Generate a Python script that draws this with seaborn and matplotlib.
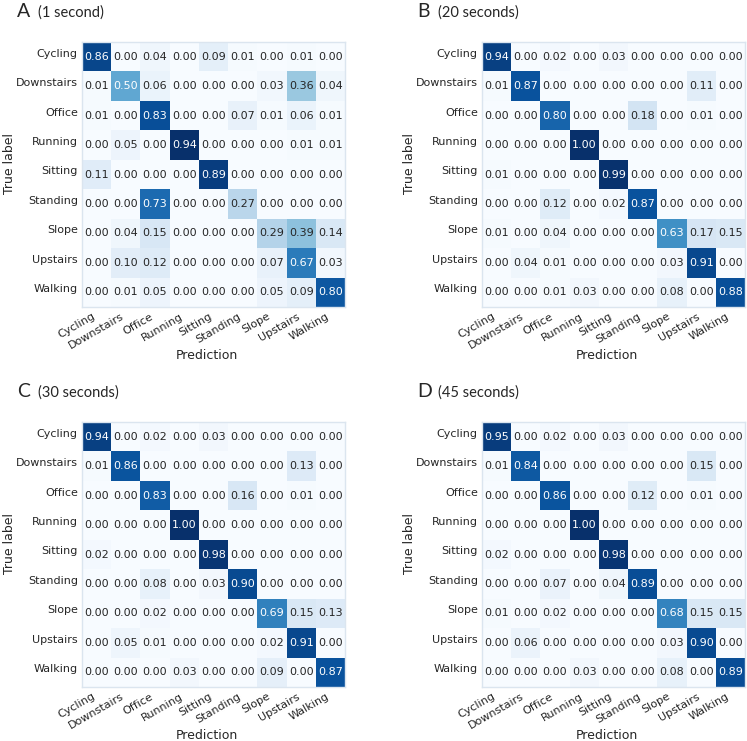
import matplotlib
matplotlib.use("Agg")
import matplotlib.pyplot as plt
import seaborn as sns
import numpy as np
import pandas as pd

classes = ["Cycling", "Downstairs", "Office", "Running", "Sitting",
           "Standing", "Slope", "Upstairs", "Walking"]

# rows = true label, columns = prediction
cm_1s = [
    [0.86, 0.00, 0.04, 0.00, 0.09, 0.01, 0.00, 0.01, 0.00],
    [0.01, 0.50, 0.06, 0.00, 0.00, 0.00, 0.03, 0.36, 0.04],
    [0.01, 0.00, 0.83, 0.00, 0.00, 0.07, 0.01, 0.06, 0.01],
    [0.00, 0.05, 0.00, 0.94, 0.00, 0.00, 0.00, 0.01, 0.01],
    [0.11, 0.00, 0.00, 0.00, 0.89, 0.00, 0.00, 0.00, 0.00],
    [0.00, 0.00, 0.73, 0.00, 0.00, 0.27, 0.00, 0.00, 0.00],
    [0.00, 0.04, 0.15, 0.00, 0.00, 0.00, 0.29, 0.39, 0.14],
    [0.00, 0.10, 0.12, 0.00, 0.00, 0.00, 0.07, 0.67, 0.03],
    [0.00, 0.01, 0.05, 0.00, 0.00, 0.00, 0.05, 0.09, 0.80],
]
cm_20s = [
    [0.94, 0.00, 0.02, 0.00, 0.03, 0.00, 0.00, 0.00, 0.00],
    [0.01, 0.87, 0.00, 0.00, 0.00, 0.00, 0.00, 0.11, 0.00],
    [0.00, 0.00, 0.80, 0.00, 0.00, 0.18, 0.00, 0.01, 0.00],
    [0.00, 0.00, 0.00, 1.00, 0.00, 0.00, 0.00, 0.00, 0.00],
    [0.01, 0.00, 0.00, 0.00, 0.99, 0.00, 0.00, 0.00, 0.00],
    [0.00, 0.00, 0.12, 0.00, 0.02, 0.87, 0.00, 0.00, 0.00],
    [0.01, 0.00, 0.04, 0.00, 0.00, 0.00, 0.63, 0.17, 0.15],
    [0.00, 0.04, 0.01, 0.00, 0.00, 0.00, 0.03, 0.91, 0.00],
    [0.00, 0.00, 0.01, 0.03, 0.00, 0.00, 0.08, 0.00, 0.88],
]
cm_30s = [
    [0.94, 0.00, 0.02, 0.00, 0.03, 0.00, 0.00, 0.00, 0.00],
    [0.01, 0.86, 0.00, 0.00, 0.00, 0.00, 0.00, 0.13, 0.00],
    [0.00, 0.00, 0.83, 0.00, 0.00, 0.16, 0.00, 0.01, 0.00],
    [0.00, 0.00, 0.00, 1.00, 0.00, 0.00, 0.00, 0.00, 0.00],
    [0.02, 0.00, 0.00, 0.00, 0.98, 0.00, 0.00, 0.00, 0.00],
    [0.00, 0.00, 0.08, 0.00, 0.03, 0.90, 0.00, 0.00, 0.00],
    [0.00, 0.00, 0.02, 0.00, 0.00, 0.00, 0.69, 0.15, 0.13],
    [0.00, 0.05, 0.01, 0.00, 0.00, 0.00, 0.02, 0.91, 0.00],
    [0.00, 0.00, 0.00, 0.03, 0.00, 0.00, 0.09, 0.00, 0.87],
]
cm_45s = [
    [0.95, 0.00, 0.02, 0.00, 0.03, 0.00, 0.00, 0.00, 0.00],
    [0.01, 0.84, 0.00, 0.00, 0.00, 0.00, 0.00, 0.15, 0.00],
    [0.00, 0.00, 0.86, 0.00, 0.00, 0.12, 0.00, 0.01, 0.00],
    [0.00, 0.00, 0.00, 1.00, 0.00, 0.00, 0.00, 0.00, 0.00],
    [0.02, 0.00, 0.00, 0.00, 0.98, 0.00, 0.00, 0.00, 0.00],
    [0.00, 0.00, 0.07, 0.00, 0.04, 0.89, 0.00, 0.00, 0.00],
    [0.01, 0.00, 0.02, 0.00, 0.00, 0.00, 0.68, 0.15, 0.15],
    [0.00, 0.06, 0.00, 0.00, 0.00, 0.00, 0.03, 0.90, 0.00],
    [0.00, 0.00, 0.00, 0.03, 0.00, 0.00, 0.08, 0.00, 0.89],
]

panel_letters = ["A", "B", "C", "D"]
panel_titles = ["(1 second)", "(20 seconds)", "(30 seconds)", "(45 seconds)"]
matrices = [cm_1s, cm_20s, cm_30s, cm_45s]

sns.set_style("white")
plt.rcParams["font.family"] = ["DejaVu Sans"]

W, H = 747, 741
fig = plt.figure(figsize=(W / 100, H / 100), dpi=100)

# pixel boxes (left, top) of each heatmap
boxes = [(82, 42), (482, 42), (82, 422), (482, 422)]
bw, bh = 263, 265

for letter, title, cm, (lx, ty) in zip(panel_letters, panel_titles, matrices, boxes):
    ax = fig.add_axes([lx / W, 1 - (ty + bh) / H, bw / W, bh / H])
    df = pd.DataFrame(cm, index=classes, columns=classes)
    sns.heatmap(df, ax=ax, cmap="Blues", annot=True, fmt=".2f", cbar=False,
                square=False, annot_kws={"size": 8})
    ax.tick_params(length=0, labelsize=8, colors="#262626", pad=3)
    ax.set_xticklabels(classes, rotation=30, ha="right")
    ax.set_yticklabels(classes, rotation=0, va="baseline")
    ax.set_xlabel("Prediction", fontsize=9, color="#262626")
    ax.set_ylabel("True label", fontsize=9, color="#262626")
    ax.xaxis.set_label_coords(0.475, -0.158)
    ax.yaxis.set_label_coords(-0.25, 0.54)
    for sp in ax.spines.values():
        sp.set_visible(True)
        sp.set_color("#dbe5ef")
        sp.set_linewidth(1)

    # panel letter and title
    fig.text((lx - 65) / W, 1 - (ty - 25) / H, letter, fontsize=14,
             family=["Lato", "DejaVu Sans"], ha="left", va="baseline")
    fig.text((lx - 44) / W, 1 - (ty - 25) / H, title, fontsize=10.5,
             family=["Lato", "DejaVu Sans"], ha="left", va="baseline")

fig.savefig("out.png", dpi=100)
